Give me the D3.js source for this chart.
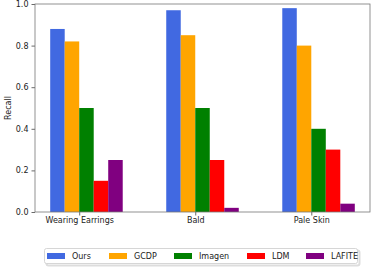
<!DOCTYPE html>
<html><head><meta charset="utf-8">
<script src="https://cdn.jsdelivr.net/npm/d3@7"></script>
<style>body{margin:0;background:#fff}svg{display:block}text{font-family:"DejaVu Sans",sans-serif;fill:#222}</style>
</head><body><svg id="c" width="374" height="267"></svg>
<script>
const categories = ["Wearing Earrings", "Bald", "Pale Skin"];
const seriesNames = ["Ours", "GCDP", "Imagen", "LDM", "LAFITE"];
const colors = ["#4169E1", "#FFA500", "#008000", "#FF0000", "#800080"];
const ours   = [0.88, 0.97, 0.98];
const gcdp   = [0.82, 0.85, 0.80];
const imagen = [0.50, 0.50, 0.40];
const ldm    = [0.15, 0.25, 0.30];
const lafite = [0.25, 0.02, 0.04];
const yTicks = [0.0, 0.2, 0.4, 0.6, 0.8, 1.0];
const series = [ours, gcdp, imagen, ldm, lafite];

const svg = d3.select("#c");
const L = 35, R = 370, T = 4, B = 212;
const w = 0.125;
const x = d3.scaleLinear().domain([-0.381, 2.506]).range([L, R]);
const y = d3.scaleLinear().domain([0, 1]).range([B, T]);

series.forEach((vals, i) => {
  svg.append("g").selectAll("rect").data(vals).join("rect")
    .attr("x", (d, j) => x(j + (i - 1.5) * w - w / 2))
    .attr("width", (d, j) => x(j + (i - 1.5) * w + w / 2) - x(j + (i - 1.5) * w - w / 2))
    .attr("y", d => y(d))
    .attr("height", d => B - y(d))
    .attr("fill", colors[i]);
});

// axes
const ya = svg.append("g").attr("transform", `translate(${L},0)`)
  .call(d3.axisLeft(y).tickValues(yTicks).tickFormat(d3.format(".1f")).tickSize(3.5).tickPadding(3));
const xa = svg.append("g").attr("transform", `translate(0,${B})`)
  .call(d3.axisBottom(x).tickValues(categories.map((c, i) => i)).tickFormat(i => categories[i]).tickSize(3.5).tickPadding(2));
[ya, xa].forEach(a => {
  a.select(".domain").remove();
  a.selectAll("line").attr("stroke", "#444").attr("stroke-width", 0.8);
  a.selectAll("text").attr("font-size", 8).attr("fill", "#222").attr("font-family", "DejaVu Sans");
});
// frame
svg.append("rect").attr("x", L).attr("y", T).attr("width", R - L).attr("height", B - T)
  .attr("fill", "none").attr("stroke", "#777").attr("stroke-width", 0.8);

svg.append("text").attr("transform", `translate(11,${(T + B) / 2}) rotate(-90)`)
  .attr("text-anchor", "middle").attr("font-size", 8).text("Recall");

// legend
const lg = svg.append("g");
lg.append("rect").attr("x", 45.5).attr("y", 249.5).attr("width", 313).attr("height", 15).attr("rx", 2)
  .attr("fill", "none").attr("stroke", "#ddd").attr("stroke-width", 2).attr("transform", "translate(1,1)");
lg.append("rect").attr("x", 44.5).attr("y", 248.5).attr("width", 313).attr("height", 15).attr("rx", 2)
  .attr("fill", "#fff").attr("stroke", "#ccc").attr("stroke-width", 0.8);
const lx = [47, 109, 174, 247, 306];
seriesNames.forEach((n, i) => {
  lg.append("rect").attr("x", lx[i]).attr("y", 253).attr("width", 18).attr("height", 6).attr("fill", colors[i]);
  lg.append("text").attr("x", lx[i] + 25).attr("y", 259).attr("font-size", 8).text(n);
});
</script></body></html>
